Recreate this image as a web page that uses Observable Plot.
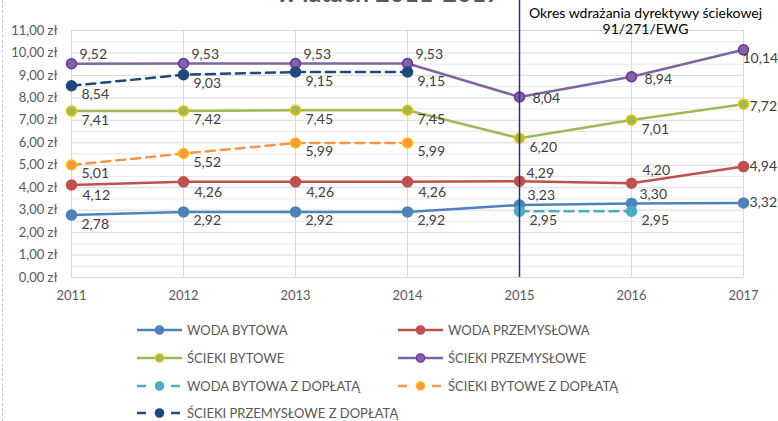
<!DOCTYPE html>
<html><head><meta charset="utf-8">
<script src="https://cdn.jsdelivr.net/npm/d3@7"></script>
<script src="https://cdn.jsdelivr.net/npm/@observablehq/plot@0.6"></script>
<style>
html,body{margin:0;padding:0;background:#fff;}
#wrap{position:relative;width:778px;height:421px;overflow:hidden;font-family:Lato,"Noto Sans",sans-serif;}
#edge{position:absolute;left:2px;top:0;height:421px;border-left:1px dashed #c8c8c8;}
.leg{position:absolute;height:14px;display:flex;align-items:center;font-size:13px;line-height:14px;color:#595959;white-space:nowrap;}
.leg svg{margin-right:5px;}
</style></head><body>
<div id="wrap"><div id="edge"></div></div>
<script>
// ---- data ----
const years = [2011, 2012, 2013, 2014, 2015, 2016, 2017];
const seriesNames = ["WODA BYTOWA", "WODA PRZEMYSŁOWA", "ŚCIEKI BYTOWE", "ŚCIEKI PRZEMYSŁOWE",
  "WODA BYTOWA Z DOPŁATĄ", "ŚCIEKI BYTOWE Z DOPŁATĄ", "ŚCIEKI PRZEMYSŁOWE Z DOPŁATĄ"];
const wodaBytowa = [2.78, 2.92, 2.92, 2.92, 3.23, 3.30, 3.32];
const wodaPrzemyslowa = [4.12, 4.26, 4.26, 4.26, 4.29, 4.20, 4.94];
const sciekiBytowe = [7.41, 7.42, 7.45, 7.45, 6.20, 7.01, 7.72];
const sciekiPrzemyslowe = [9.52, 9.53, 9.53, 9.53, 8.04, 8.94, 10.14];
const wodaBytowaDop = [null, null, null, null, 2.95, 2.95, null];
const sciekiBytoweDop = [5.01, 5.52, 5.99, 5.99, null, null, null];
const sciekiPrzemysloweDop = [8.54, 9.03, 9.15, 9.15, null, null, null];
const yTicks = [0, 1, 2, 3, 4, 5, 6, 7, 8, 9, 10, 11];
const yMinor = [0.5, 1.5, 2.5, 3.5, 4.5, 5.5, 6.5, 7.5, 8.5, 9.5, 10.5];
const markerYear = [2015];
const noteText = "Okres wdrażania dyrektywy ściekowej\n91/271/EWG";
const titleText = "w latach 2011-2017";

// ---- styles ----
const valuesBy = [wodaBytowa, wodaPrzemyslowa, sciekiBytowe, sciekiPrzemyslowe, wodaBytowaDop, sciekiBytoweDop, sciekiPrzemysloweDop];
const styles = [
  {color: "#4F81BD", fill: "#4F81BD", mstroke: "#4F81BD", dash: null},
  {color: "#C0504D", fill: "#C0504D", mstroke: "#C0504D", dash: null},
  {color: "#9BBB59", fill: "#9BBB59", mstroke: "#FFC000", dash: null},
  {color: "#8064A2", fill: "#8064A2", mstroke: "#7030A0", dash: null},
  {color: "#4BACC6", fill: "#4BACC6", mstroke: "#4BACC6", dash: "9,6"},
  {color: "#F79646", fill: "#F79646", mstroke: "#FFC000", dash: "9,6"},
  {color: "#1F497D", fill: "#1F497D", mstroke: "#1F497D", dash: "9,6"}
];
const BR = [10, 9], AR = [8, -9], R = [6, 0];
function placement(si, year) {
  if (si === 3) {
    if (year <= 2014) return AR;
    if (year === 2015) return [13, 2];
    if (year === 2016) return [13, 3];
    return [-1, 9];
  }
  if (si === 0) {
    if (year === 2015 || year === 2016) return AR;
    if (year === 2017) return R;
  }
  if (si === 1) {
    if (year === 2015) return [7, -8];
    if (year === 2016) return [11, -13];
    if (year === 2017) return R;
    return [11, 11];
  }
  if (si === 2 && year === 2017) return [6, 2];
  return BR;
}
const fmt = v => v.toFixed(2).replace(".", ",");

const marks = [
  Plot.ruleY(yMinor, {stroke: "#E8E8E8", strokeWidth: 1}),
  Plot.ruleY(yTicks, {stroke: "#D9D9D9", strokeWidth: 1}),
  Plot.ruleX(years, {stroke: "#D9D9D9", strokeWidth: 1}),
  Plot.axisY(yTicks, {tickSize: 0, tickPadding: 14, tickFormat: d => fmt(d) + " zł", fontSize: 13, fill: "#595959", label: null}),
  Plot.axisX(years, {tickSize: 0, tickPadding: 13, tickFormat: d => String(d), fontSize: 13, fill: "#595959", label: null}),
];
seriesNames.forEach((name, si) => {
  const st = styles[si];
  const rows = years.map((yr, i) => ({year: yr, value: valuesBy[si][i]})).filter(d => d.value != null);
  marks.push(Plot.line(rows, {x: "year", y: "value", stroke: st.color, strokeWidth: 2.5, strokeDasharray: st.dash}));
});
seriesNames.forEach((name, si) => {
  const st = styles[si];
  const rows = years.map((yr, i) => ({year: yr, value: valuesBy[si][i]})).filter(d => d.value != null);
  marks.push(Plot.dot(rows, {x: "year", y: "value", r: 5, fill: st.fill, stroke: st.mstroke, strokeWidth: 1.5}));
});
marks.push(Plot.ruleX(markerYear, {stroke: "#1F3A73", strokeWidth: 1.5, insetTop: -30}));
seriesNames.forEach((name, si) => {
  years.forEach((yr, i) => {
    const v = valuesBy[si][i];
    if (v == null) return;
    const [dx, dy] = placement(si, yr);
    marks.push(Plot.text([{year: yr, value: v}], {x: "year", y: "value", text: d => fmt(d.value), dx, dy,
      textAnchor: "start", lineAnchor: "middle", fontSize: 14, fill: "#404040"}));
  });
});
marks.push(Plot.text([noteText], {x: markerYear[0], frameAnchor: "top", text: d => d, dx: 126, dy: -10,
  textAnchor: "middle", lineAnchor: "middle", lineHeight: 1.15, fontSize: 14, fill: "#000"}));
marks.push(Plot.text([titleText], {frameAnchor: "top", text: d => d, dx: -19, dy: -29, lineAnchor: "bottom",
  textAnchor: "middle", fontSize: 25, fontWeight: "bold", fill: "#595959"}));

const chart = Plot.plot({
  width: 778, height: 310,
  marginLeft: 71, marginRight: 35, marginTop: 30, marginBottom: 33,
  x: {domain: [2011, 2017]},
  y: {domain: [0, 11]},
  style: {fontFamily: "Lato, 'Noto Sans', sans-serif", background: "#fff"},
  marks
});
document.getElementById("wrap").appendChild(chart);

// ---- legend ----
const legPos = [[137, 330], [398, 330], [137, 358], [398, 358], [137, 386], [398, 386], [137, 413]];
seriesNames.forEach((name, si) => {
  const st = styles[si];
  const div = document.createElement("div");
  div.className = "leg";
  div.style.left = legPos[si][0] + "px";
  div.style.top = (legPos[si][1] - 7) + "px";
  const lineSvg = st.dash
    ? `<line x1="0" y1="7" x2="9" y2="7" stroke="${st.color}" stroke-width="2.5"/><line x1="34" y1="7" x2="43" y2="7" stroke="${st.color}" stroke-width="2.5"/>`
    : `<line x1="0" y1="7" x2="45" y2="7" stroke="${st.color}" stroke-width="2.5"/>`;
  div.innerHTML = `<svg width="45" height="14">${lineSvg}<circle cx="22.5" cy="7" r="4.2" fill="${st.fill}" stroke="${st.mstroke}" stroke-width="1.2"/></svg><span>${name}</span>`;
  document.getElementById("wrap").appendChild(div);
});
</script>
</body></html>
